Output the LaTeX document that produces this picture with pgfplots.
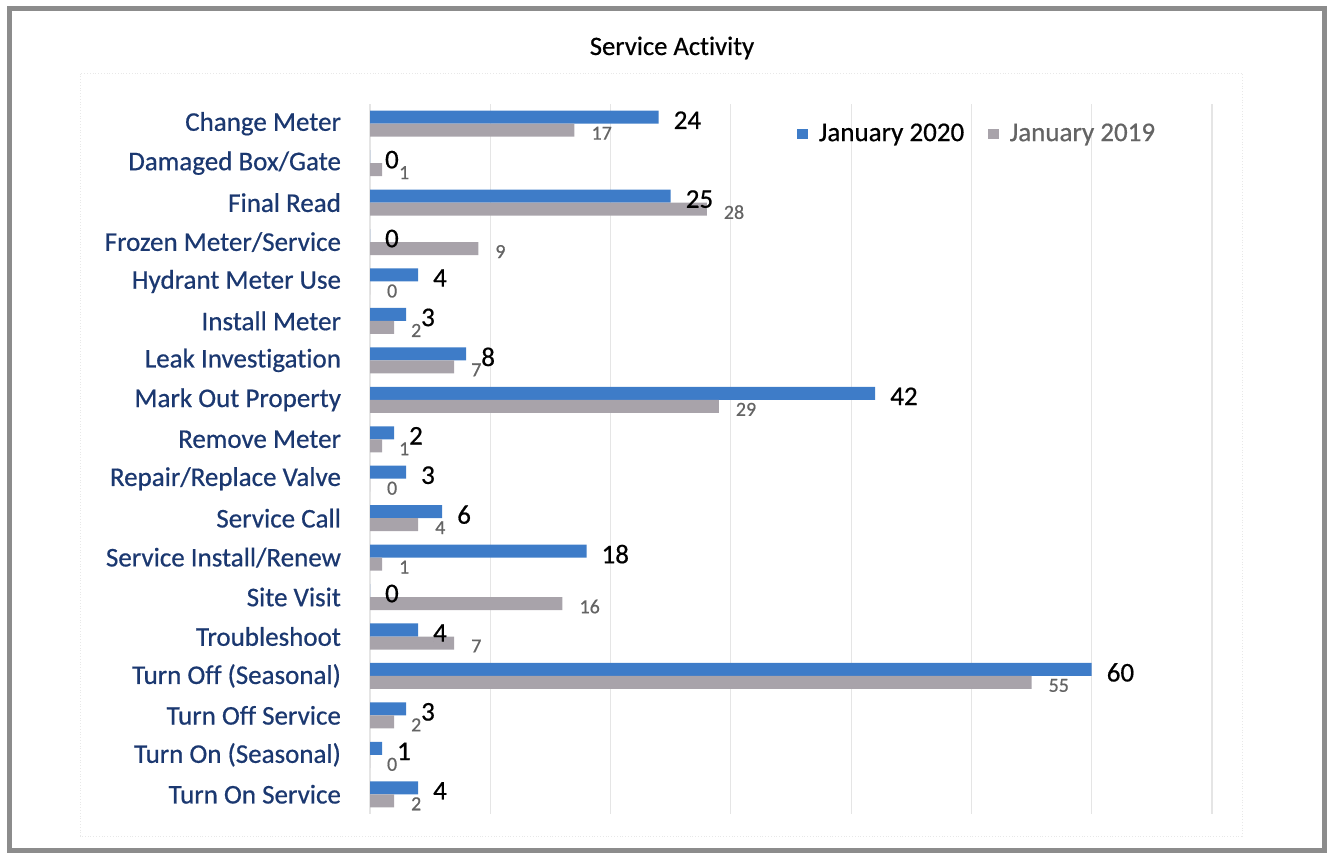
\documentclass[border=0pt]{standalone}
\usepackage{fontspec}
\setmainfont{Carlito}[FakeBold=0.6, Ligatures=NoCommon]
\usepackage{pgfplots}
\pgfplotsset{compat=1.18}
\definecolor{jan20}{RGB}{62,124,200}
\definecolor{jan19}{RGB}{168,163,170}
\definecolor{catblue}{RGB}{27,56,112}
\definecolor{framegray}{RGB}{140,140,140}
\definecolor{lbl19}{RGB}{100,100,100}
\newcommand{\lblfont}{\fontsize{13.5}{15}\selectfont}
\begin{document}
\begin{tikzpicture}
\path[use as bounding box] (0pt,0pt) rectangle (664pt,427.5pt);
\draw[framegray, line width=2.5pt] (4.5pt,2pt) rectangle (662pt,423pt);
\draw[black!9, densely dotted] (40pt,9.5pt) rectangle (621pt,391pt);
\node at (336pt,403.5pt) {\fontsize{13.3}{15}\selectfont Service Activity};
\begin{axis}[
  at={(185pt,20.5pt)}, anchor=south west,
  scale only axis, width=421pt, height=355pt,
  xbar, xmin=0, xmax=70, ymin=-0.5, ymax=17.5, y dir=reverse,
  xtick={0,10,...,70}, xticklabels={},
  xmajorgrids, grid style={black!10, line width=0.6pt},
  ytick={0,...,17},
  yticklabels={Change Meter, Damaged Box/Gate, Final Read, Frozen Meter/Service,
    Hydrant Meter Use, Install Meter, Leak Investigation, Mark Out Property,
    Remove Meter, Repair/Replace Valve, Service Call, Service Install/Renew,
    Site Visit, Troubleshoot, Turn Off (Seasonal), Turn Off Service,
    Turn On (Seasonal), Turn On Service},
  yticklabel style={font=\lblfont, text=catblue, anchor=east, xshift=-11pt},
  major tick length=0, axis line style={draw=none},
  bar width=0.33,
  nodes near coords, point meta=x,
  /pgf/number format/assume math mode=true,
  legend style={at={(0.5,0.958)}, anchor=west, draw=none, fill=none,
    font=\lblfont, legend columns=2,
    /tikz/every odd column/.append style={column sep=3.5pt},
    /tikz/every even column/.append style={column sep=10pt}},
  legend image code/.code={\fill[#1] (0pt,-2.6pt) rectangle (5.2pt,2.6pt);},
]
\addplot[fill=jan20, draw=none, bar shift=-0.165,
  every node near coord/.append style={font=\lblfont, text=black, anchor=west, xshift=4pt, yshift=-1.5pt}]
  coordinates {(24,0) (0,1) (25,2) (0,3) (4,4) (3,5) (8,6) (42,7) (2,8)
    (3,9) (6,10) (18,11) (0,12) (4,13) (60,14) (3,15) (1,16) (4,17)};
\addlegendentry{January 2020}
\addplot[fill=jan19, draw=none, bar shift=0.165,
  every node near coord/.append style={font=\fontsize{10}{12}\selectfont, text=lbl19, anchor=west, xshift=5pt, yshift=-1.5pt}]
  coordinates {(17,0) (1,1) (28,2) (9,3) (0,4) (2,5) (7,6) (29,7) (1,8)
    (0,9) (4,10) (1,11) (16,12) (7,13) (55,14) (2,15) (0,16) (2,17)};
\addlegendentry{\textcolor{lbl19}{January 2019}}
\end{axis}
\end{tikzpicture}
\end{document}
